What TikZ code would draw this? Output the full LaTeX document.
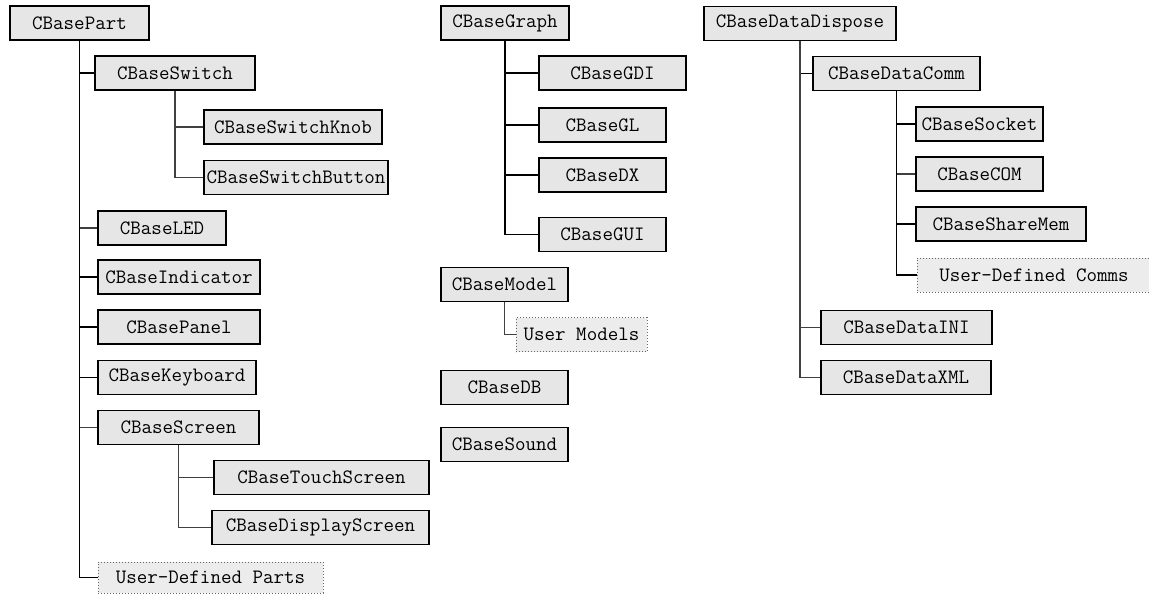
\documentclass[tikz,border=0pt]{standalone}
\usepackage{tikz}
\usetikzlibrary{positioning}
\definecolor{boxgray}{RGB}{230,230,230}
\definecolor{usergray}{RGB}{236,236,236}
\tikzstyle{cls}=[
        draw,
        rectangle,
        line width=1.1pt,
        fill=boxgray,
        minimum height=34pt,
        inner sep=0pt,
        font=\fontsize{20.4}{24}\selectfont\ttfamily
]
\tikzstyle{userdef}=[
        cls,
        draw=black!60,
        line width=1pt,
        dotted,
        fill=usergray
]
\tikzstyle{link}=[line width=1.2pt]
\tikzstyle{sublink}=[line width=1.1pt,draw=black!75]

\begin{document}
\begin{tikzpicture}[x=1pt,y=-1pt]
\useasboundingbox (0,0) rectangle (1149,595);
%CBasePart tree
\node[cls,minimum width=139pt] (part) at (79.5,23) {CBasePart};
\node[cls,minimum width=160pt] (switch) at (175,73) {CBaseSwitch};
\node[cls,minimum width=178pt] (knob) at (293,127) {CBaseSwitchKnob};
\node[cls,minimum width=184pt] (button) at (296,177.5) {CBaseSwitchButton};
\node[cls,minimum width=128pt] (led) at (162,228) {CBaseLED};
\node[cls,minimum width=162pt] (indicator) at (179,277) {CBaseIndicator};
\node[cls,minimum width=162pt] (panel) at (179,327) {CBasePanel};
\node[cls,minimum width=158pt] (keyboard) at (177,377.5) {CBaseKeyboard};
\node[cls,minimum width=161pt] (screen) at (178.5,427.5) {CBaseScreen};
\node[cls,minimum width=215pt] (touch) at (321.5,477.5) {CBaseTouchScreen};
\node[cls,minimum width=217pt] (display) at (320.5,527.5) {CBaseDisplayScreen};
\node[userdef,minimum width=225pt,minimum height=31pt] (userparts) at (210.5,577.5) {User-Defined Parts};
%CBaseGraph tree and others
\node[cls,minimum width=128pt] (graph) at (505,23) {CBaseGraph};
\node[cls,minimum width=147pt] (gdi) at (612.5,73) {CBaseGDI};
\node[cls,minimum width=127pt] (gl) at (602.5,125) {CBaseGL};
\node[cls,minimum width=127pt] (dx) at (602.5,175) {CBaseDX};
\node[cls,minimum width=127pt] (gui) at (602.5,234.5) {CBaseGUI};
\node[cls,minimum width=127pt] (model) at (504.5,284.5) {CBaseModel};
\node[userdef,minimum width=131pt] (usermodels) at (581.5,334.5) {User Models};
\node[cls,minimum width=127pt] (db) at (504.5,387.5) {CBaseDB};
\node[cls,minimum width=127pt] (sound) at (504.5,444.5) {CBaseSound};
%CBaseDataDispose tree
\node[cls,minimum width=192pt] (dispose) at (800,23.5) {CBaseDataDispose};
\node[cls,minimum width=167pt] (comm) at (896.5,73.5) {CBaseDataComm};
\node[cls,minimum width=127pt] (socket) at (979.5,124) {CBaseSocket};
\node[cls,minimum width=127pt] (com) at (979.5,174) {CBaseCOM};
\node[cls,minimum width=170pt] (sharemem) at (1001,224) {CBaseShareMem};
\node[userdef,minimum width=234pt] (usercomms) at (1034,275) {User-Defined Comms};
\node[cls,minimum width=171pt] (ini) at (906.5,327.5) {CBaseDataINI};
\node[cls,minimum width=170pt] (xml) at (906,377.5) {CBaseDataXML};
%Drawing Edges
\draw[link] (part) -- (part |- userparts);
\draw[link] (part.south) |- (switch.west);
\draw[sublink] (part.south) |- (led.west);
\draw[link] (part.south) |- (indicator.west);
\draw[link] (part.south) |- (panel.west);
\draw[link] (part.south) |- (keyboard.west);
\draw[sublink] (part.south) |- (screen.west);
\draw[link] (part.south) |- (userparts.west);
\draw[link] (switch.south) -- (switch.south |- knob);
\draw[sublink] (switch.south) |- (knob.west);
\draw[sublink] (switch.south) |- (button.west);
\draw[link] (screen.south) -- (screen.south |- touch);
\draw[sublink] (screen.south) |- (touch.west);
\draw[sublink] (screen.south) |- (display.west);
\draw[link] (graph.south) |- (gdi.west);
\draw[link] (graph.south) |- (gl.west);
\draw[link] (graph.south) |- (dx.west);
\draw[link] (graph.south) |- (gui.west);
\draw[sublink] (model.south) |- (usermodels.west);
\draw[link] (dispose.south) |- (comm.west);
\draw[sublink] (dispose.south) |- (ini.west);
\draw[sublink] (dispose.south) |- (xml.west);
\draw[link] (comm.south) |- (socket.west);
\draw[sublink] (comm.south) |- (com.west);
\draw[link] (comm.south) |- (sharemem.west);
\draw[link] (comm.south) |- (usercomms.west);
\end{tikzpicture}
\end{document}
